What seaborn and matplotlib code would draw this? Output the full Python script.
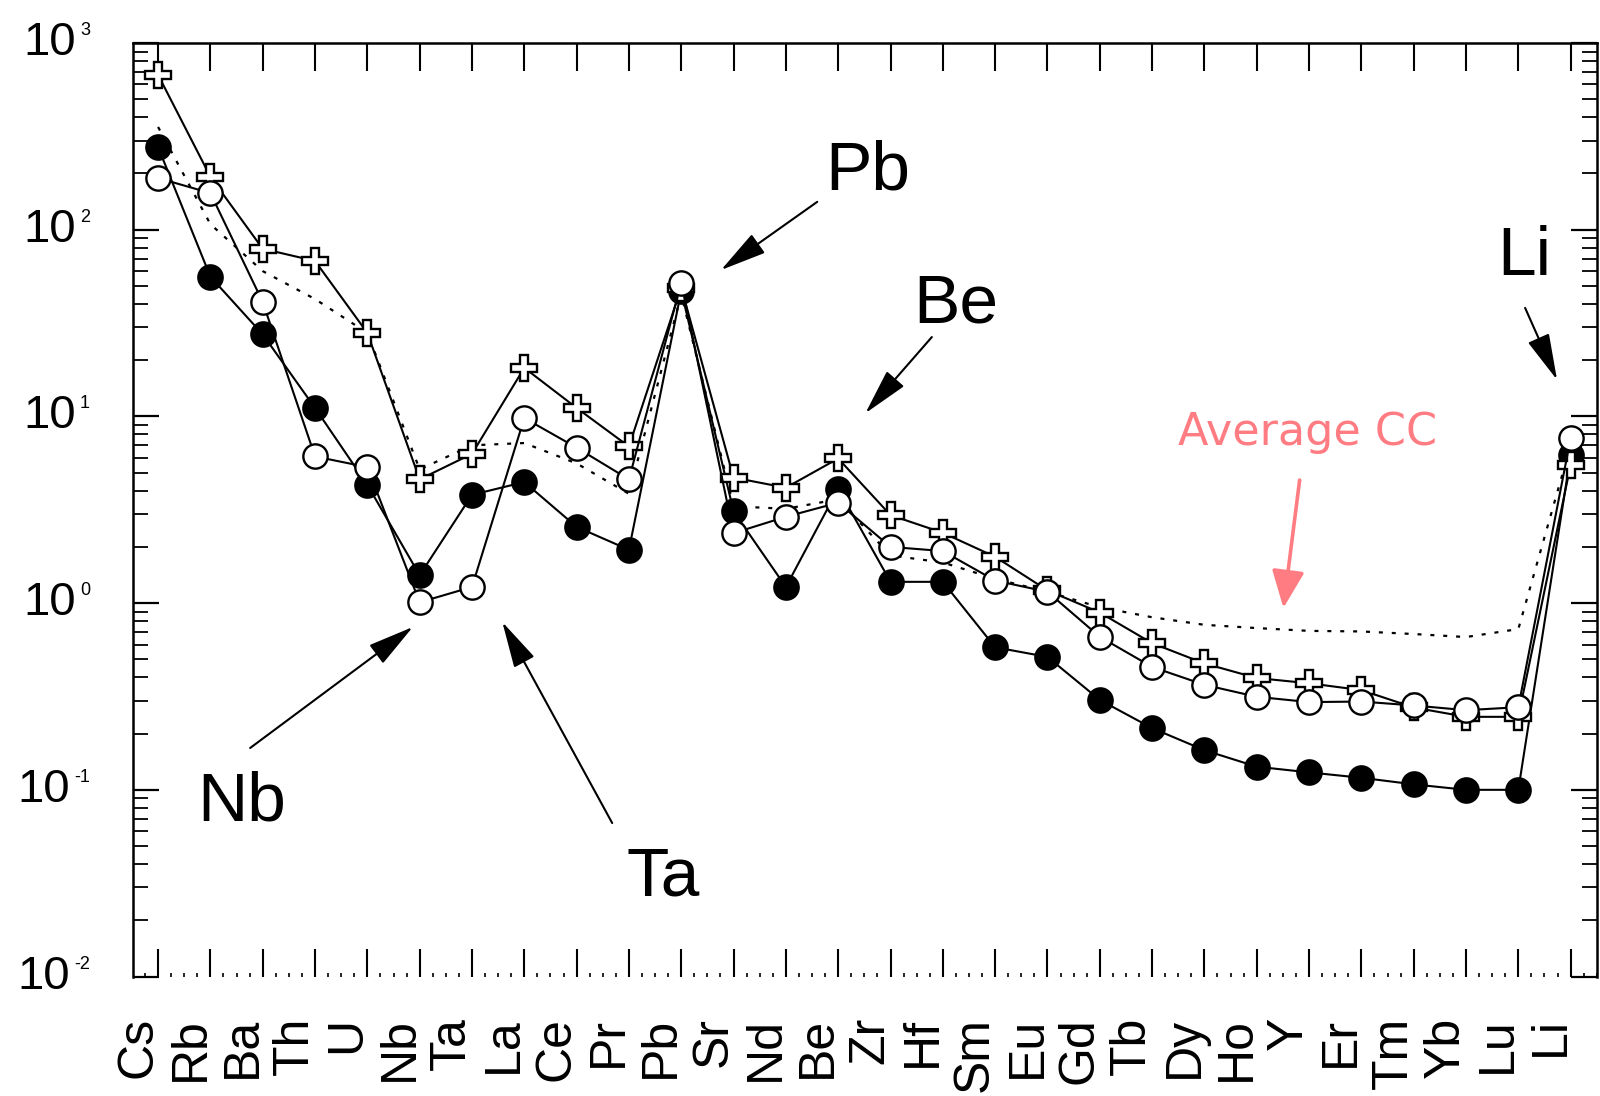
import numpy as np
import pandas as pd
import matplotlib
matplotlib.use("Agg")
import matplotlib.pyplot as plt
import matplotlib.transforms as mtransforms
from matplotlib.ticker import LogLocator, NullFormatter, MultipleLocator, FixedLocator
import seaborn as sns

# Element order (incompatible -> compatible, Li at the end)
elements = ["Cs", "Rb", "Ba", "Th", "U", "Nb", "Ta", "La", "Ce", "Pr", "Pb", "Sr", "Nd",
            "Be", "Zr", "Hf", "Sm", "Eu", "Gd", "Tb", "Dy", "Ho", "Y", "Er", "Tm", "Yb",
            "Lu", "Li"]

# Normalised abundances of the three samples
filled_series = [277, 56, 27.5, 11.1, 4.3, 1.41, 3.8, 4.45, 2.56, 1.93, 47, 3.1, 1.22,
                 4.1, 1.30, 1.30, 0.58, 0.515, 0.303, 0.214, 0.163, 0.133, 0.124, 0.116,
                 0.107, 0.100, 0.100, 6.2]
open_series = [189, 157, 41, 6.1, 5.35, 1.01, 1.22, 9.8, 6.8, 4.6, 52, 2.37, 2.9,
               3.45, 2.0, 1.9, 1.32, 1.15, 0.66, 0.455, 0.365, 0.315, 0.295, 0.297,
               0.283, 0.267, 0.277, 7.65]
cross_series = [675, 192, 79, 68, 28, 4.6, 6.3, 18.2, 11.1, 6.9, 49, 4.7, 4.15,
                5.95, 2.96, 2.38, 1.77, 1.17, 0.89, 0.61, 0.475, 0.397, 0.372, 0.342,
                0.276, 0.246, 0.246, 5.5]
# Average continental crust
avg_cc = [355, 107, 60, 42.5, 28, 5.2, 7.0, 7.2, 5.6, 3.85, 45, 3.3, 3.2,
          3.6, 1.8, 1.65, 1.35, 1.15, 0.95, 0.84, 0.765, 0.735, 0.71, 0.705,
          0.683, 0.658, 0.726, 7.0]

decades = [-2, -1, 0, 1, 2, 3]

sns.set_style("white")
plt.rcParams["font.family"] = ["Liberation Sans", "DejaVu Sans"]
plt.rcParams["text.color"] = "black"
plt.rcParams["axes.labelcolor"] = "black"
plt.rcParams["xtick.color"] = "black"
plt.rcParams["ytick.color"] = "black"
plt.rcParams["axes.edgecolor"] = "black"

fig = plt.figure(figsize=(16, 10.96), dpi=100)
ax = fig.add_axes([0.0831, 0.109, 0.9149, 0.8518])

pos = np.arange(len(elements))
df = pd.DataFrame({"pos": pos, "filled": filled_series, "open": open_series,
                   "cross": cross_series, "cc": avg_cc})

line_kw = dict(color="black", linewidth=1.5, markeredgewidth=1.7,
               markeredgecolor="black")

sns.lineplot(data=df, x="pos", y="cc", ax=ax, color="black", linewidth=1.6,
             linestyle=(0, (1.8, 4.0)), zorder=1)
sns.lineplot(data=df, x="pos", y="filled", ax=ax, marker="o", markersize=17.5,
             markerfacecolor="black", zorder=2, **line_kw)
sns.lineplot(data=df, x="pos", y="cross", ax=ax, marker="P", markersize=19,
             markerfacecolor="white", zorder=3, **line_kw)
sns.lineplot(data=df, x="pos", y="open", ax=ax, marker="o", markersize=17.5,
             markerfacecolor="white", zorder=4, **line_kw)

ax.set_yscale("log")
ax.set_ylim(1e-2, 1e3)
ax.set_xlim(-0.48, len(elements) - 0.5)
ax.set_xlabel("")
ax.set_ylabel("")

# spines
for side in ["left", "top", "right"]:
    ax.spines[side].set_linewidth(1.8)
    ax.spines[side].set_color("black")
ax.spines["bottom"].set_visible(False)

# y ticks (labels drawn by hand below)
ax.yaxis.set_major_locator(FixedLocator([10.0 ** d for d in decades]))
ax.yaxis.set_minor_locator(LogLocator(base=10, subs=np.arange(2, 10) * 1.0, numticks=30))
ax.yaxis.set_major_formatter(NullFormatter())
ax.yaxis.set_minor_formatter(NullFormatter())
ax.tick_params(axis="y", which="major", direction="in", length=19, width=1.6,
               left=True, right=True, labelleft=False)
ax.tick_params(axis="y", which="minor", direction="in", length=11, width=1.3,
               left=True, right=True)

# x ticks
ax.set_xticks(pos)
ax.set_xticklabels(elements, rotation=90, fontsize=36, color="black")
ax.xaxis.set_minor_locator(MultipleLocator(0.25))
ax.tick_params(axis="x", which="major", direction="in", length=20, width=1.5,
               top=True, bottom=True, pad=29)
ax.tick_params(axis="x", which="minor", direction="in", length=3, width=1.2,
               top=False, bottom=True)

shift = mtransforms.ScaledTranslation(-0.2, 0, fig.dpi_scale_trans)
for lbl in ax.get_xticklabels():
    lbl.set_transform(lbl.get_transform() + shift)

# decade labels: 10 with a small exponent
ytr = ax.get_yaxis_transform()
for d in decades:
    exp_tr = ytr + mtransforms.ScaledTranslation(-0.43, 0.08, fig.dpi_scale_trans)
    exp_txt = ax.text(0, 10.0 ** d, str(d), transform=exp_tr, ha="right",
                      va="baseline", fontsize=13, color="black", clip_on=False)
    ax.annotate("10", xy=(0, 0), xycoords=exp_txt, xytext=(-3, -11.5),
                textcoords="offset points", ha="right", va="baseline",
                fontsize=34, color="black", annotation_clip=False)

# element call-outs
arrow_k = dict(arrowstyle="-|>,head_length=1.45,head_width=0.36", color="black",
               lw=1.5, mutation_scale=20, shrinkA=0, shrinkB=0)
callouts = [
    ("Pb", (13.57, 165), (12.60, 141), (10.76, 60.8)),
    ("Be", (15.24, 32), (14.79, 26.6), (13.52, 10.4)),
    ("Li", (26.12, 57.2), (26.13, 38.1), (26.74, 15.7)),
    ("Nb", (1.60, 0.0689), (1.76, 0.1675), (4.87, 0.745)),
    ("Ta", (9.65, 0.0273), (8.68, 0.0664), (6.58, 0.792)),
]
for name, txt_xy, tail, tip in callouts:
    ax.text(txt_xy[0], txt_xy[1], name, fontsize=50, ha="center", va="baseline",
            color="black")
    ax.annotate("", xy=tip, xytext=tail, arrowprops=arrow_k)

pink = "#ff7d82"
ax.text(21.97, 7.03, "Average CC", fontsize=32, color=pink, ha="center",
        va="baseline", family="DejaVu Sans")
ax.annotate("", xy=(21.51, 0.942), xytext=(21.82, 4.56),
            arrowprops=dict(arrowstyle="-|>,head_length=1.15,head_width=0.5",
                            color=pink, lw=2.6, mutation_scale=20,
                            shrinkA=0, shrinkB=0))

fig.savefig("out.png", dpi=100)
